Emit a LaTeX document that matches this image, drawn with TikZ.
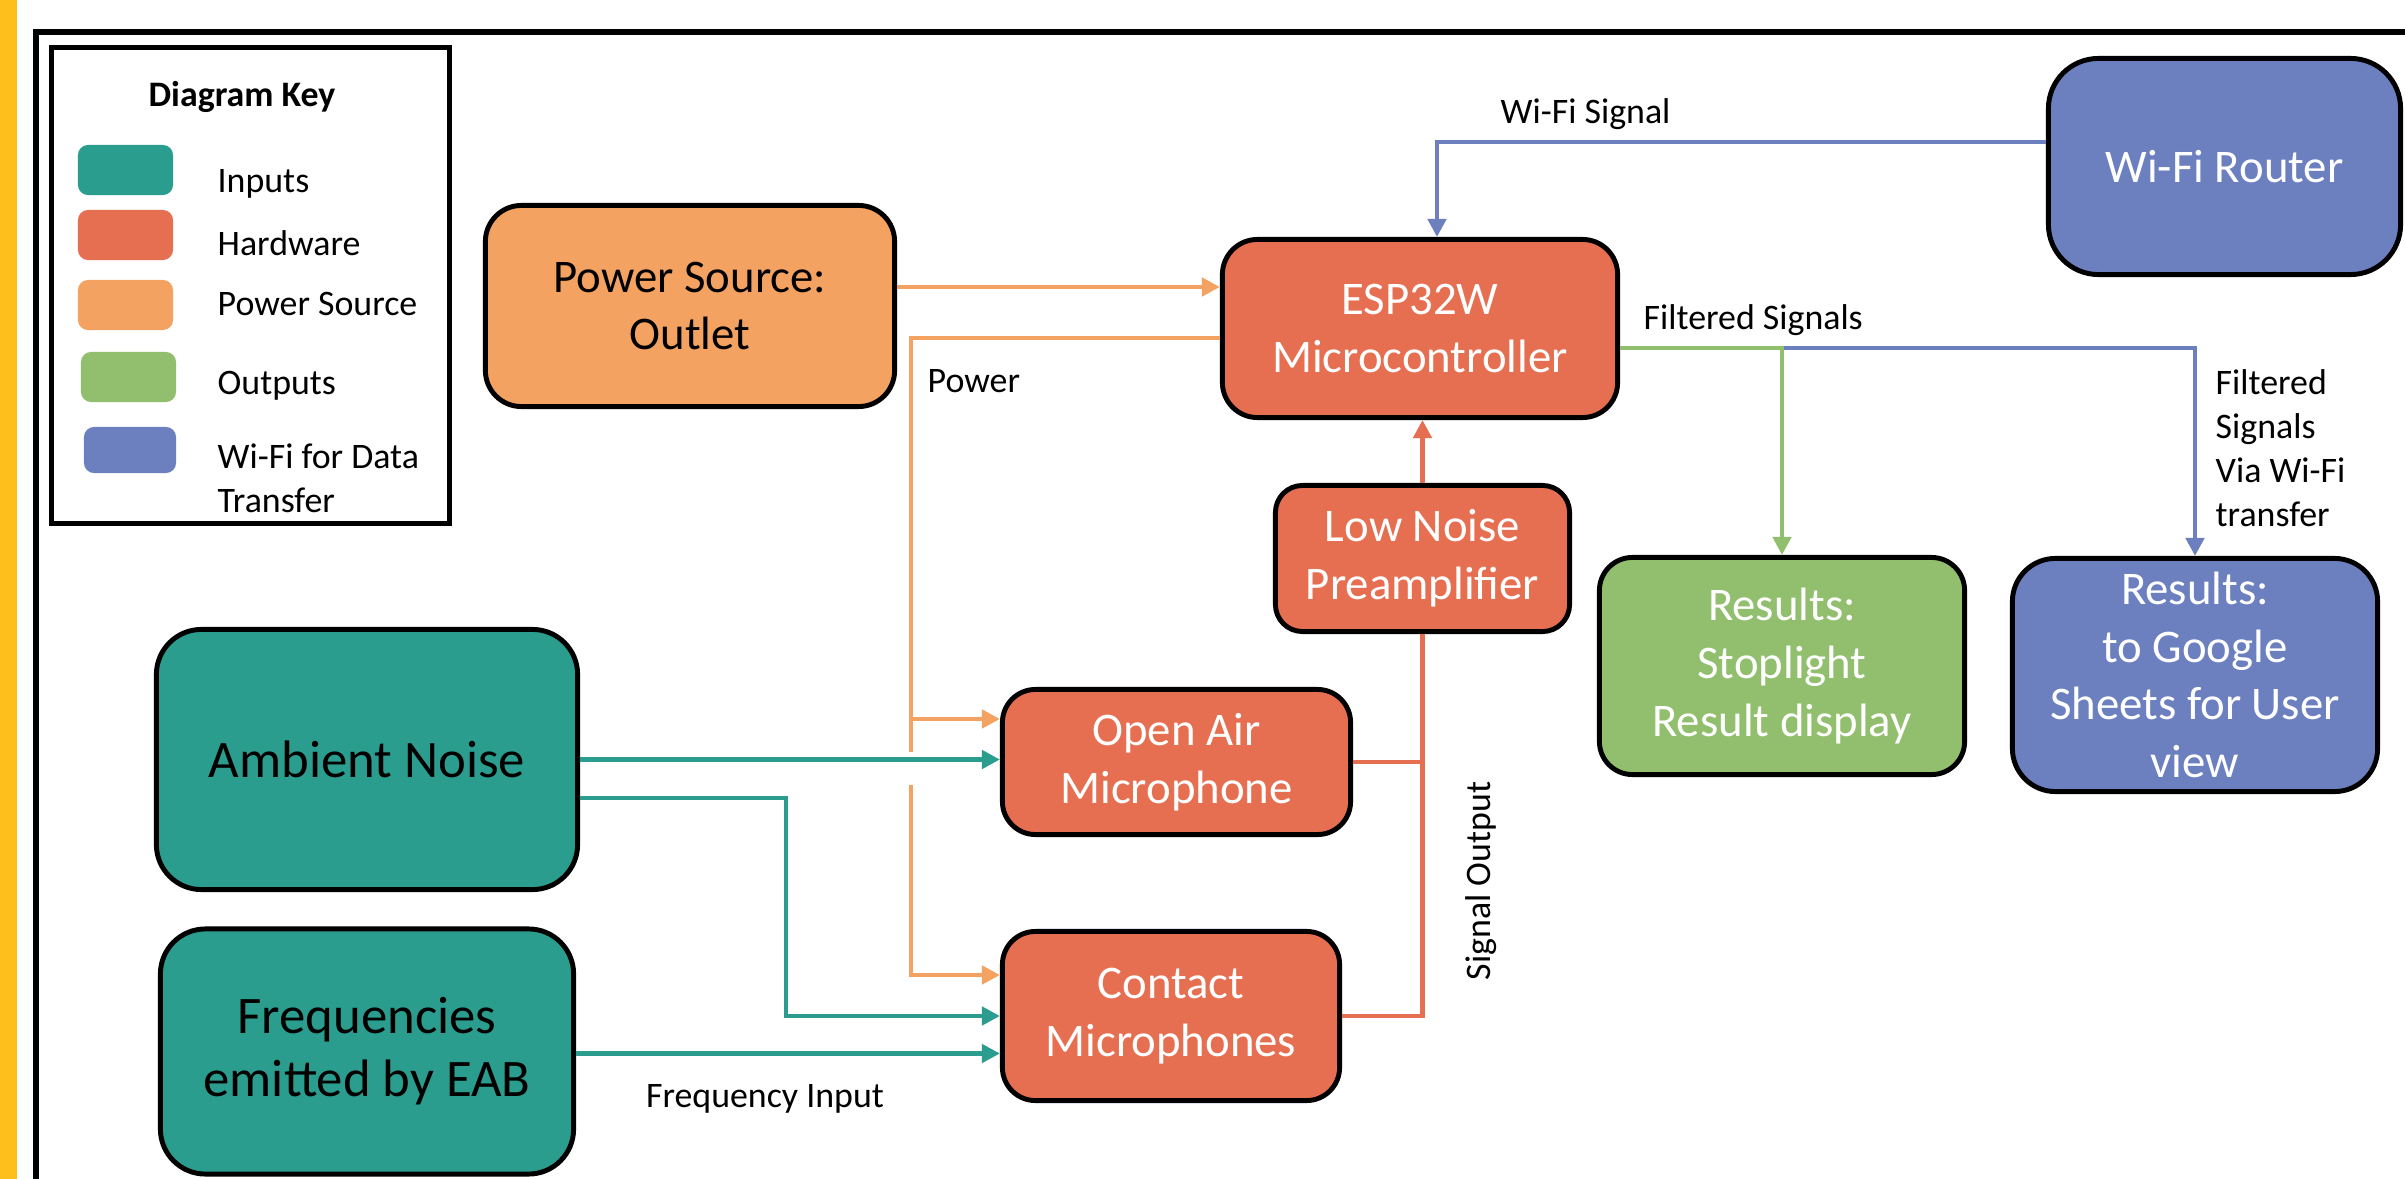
\documentclass[tikz,border=0pt]{standalone}
\usepackage{fontspec}
\setmainfont{Carlito}
\usetikzlibrary{arrows.meta,calc}
\definecolor{cteal}{HTML}{2A9D8F}
\definecolor{cred}{HTML}{E76F51}
\definecolor{corange}{HTML}{F4A261}
\definecolor{cgreen}{HTML}{92BF6E}
\definecolor{cblue}{HTML}{6C80BF}
\definecolor{cyellow}{HTML}{FEBE1C}
\newcommand\bigfnt{\fontsize{15}{17.9}\selectfont}
\newcommand\medfnt{\fontsize{13.3}{16.4}\selectfont}
\newcommand\smfnt{\fontsize{10.2}{12.5}\selectfont}
\begin{document}
\begin{tikzpicture}[x=0.01cm,y=-0.01cm,
  blk/.style={draw=black, line width=1.4pt, align=center, inner sep=0pt},
  conn/.style={line width=1.4pt},
  arr/.style={-{Triangle[length=0.18cm,width=0.18cm]}},
  swatch/.style={rounded corners=0.1cm, minimum width=0.95cm, minimum height=0.5cm, inner sep=0pt},
  lbl/.style={font=\smfnt, inner sep=0pt, align=left}]
\useasboundingbox (0,0) rectangle (2405,1179);
\fill[white] (0,0) rectangle (2405,1179);
% side bar and frame
\fill[cyellow] (0,0) rectangle (17,1179);
\draw[line width=1.55pt] (36,1179) -- (36,32) -- (2405,32);
% legend
\node[draw, line width=1.4pt, minimum width=3.98cm, minimum height=4.76cm, inner sep=0pt] (key) at (250.5,285.5) {};
\node[font=\smfnt\bfseries, anchor=base, inner sep=0pt] (keytitle) at (242,107) {Diagram Key};
\node[swatch, fill=cteal] (sw1) at (125.5,170) {};
\node[swatch, fill=cred] (sw2) at (125.5,235) {};
\node[swatch, fill=corange] (sw3) at (125.5,305) {};
\node[swatch, fill=cgreen] (sw4) at (128.5,377) {};
\node[swatch, fill=cblue, minimum width=0.92cm, minimum height=0.46cm] (sw5) at (130,450) {};
\node[lbl, anchor=base west] (l1) at (217,193) {Inputs};
\node[lbl, anchor=base west] (l2) at (217,256) {Hardware};
\node[lbl, anchor=base west] (l3) at (217,316) {Power Source};
\node[lbl, anchor=base west] (l4) at (217,395) {Outputs};
\node[lbl, anchor=base west] (l5) at (217,512) {Wi-Fi for Data\\Transfer};
% boxes
\node[blk, fill=corange, rounded corners=0.36cm, minimum width=4.09cm, minimum height=2.01cm, font=\medfnt] (power) at (690,306) {Power Source:\\Outlet};
\node[blk, fill=cteal, rounded corners=0.45cm, minimum width=4.21cm, minimum height=2.6cm, font=\bigfnt] (ambient) at (367,759.5) {Ambient Noise};
\node[blk, fill=cteal, rounded corners=0.45cm, minimum width=4.13cm, minimum height=2.45cm, font=\bigfnt] (freq) at (367,1051.5) {Frequencies\\emitted by EAB};
\node[blk, fill=cred, text=white, rounded corners=0.35cm, minimum width=3.95cm, minimum height=1.78cm, font=\medfnt] (esp) at (1420,328.5) {ESP32W\\Microcontroller};
\node[blk, fill=cblue, text=white, rounded corners=0.5cm, minimum width=3.52cm, minimum height=2.16cm, font=\medfnt] (router) at (2224.5,166.5) {Wi-Fi Router};
\node[blk, fill=cred, text=white, rounded corners=0.27cm, minimum width=2.94cm, minimum height=1.46cm, font=\medfnt] (lna) at (1422.5,558.5) {Low Noise\\Preamplifier};
\node[blk, fill=cred, text=white, rounded corners=0.33cm, minimum width=3.48cm, minimum height=1.45cm, font=\medfnt] (oam) at (1176.5,762) {Open Air\\Microphone};
\node[blk, fill=cred, text=white, rounded corners=0.33cm, minimum width=3.37cm, minimum height=1.69cm, font=\medfnt] (cm) at (1171,1016) {Contact\\Microphones};
\node[blk, fill=cgreen, text=white, rounded corners=0.33cm, minimum width=3.65cm, minimum height=2.17cm, font=\medfnt] (stop) at (1782,666) {Results:\\Stoplight\\Result display};
\node[blk, fill=cblue, text=white, rounded corners=0.43cm, minimum width=3.65cm, minimum height=2.33cm, font=\medfnt] (gs) at (2195,675) {Results:\\to Google\\Sheets for User\\view};
% power connectors
\coordinate (p1) at ($(power.east)+(0,-19)$);
\draw[conn, corange, arr] (p1) -- (p1 -| esp.west);
\coordinate (pj0) at ($(esp.west)+(0,9.5)$);
\coordinate (pbusA) at (911,752);
\coordinate (pj1) at (911,719);
\coordinate (pbusB) at (911,785);
\coordinate (pj2) at (911,975);
\draw[conn, corange] (pj0) -| (pbusA);
\draw[conn, corange, arr] (pj1) -- (pj1 -| oam.west);
\draw[conn, corange, arr] (pbusB) -- (pj2) -- (pj2 -| cm.west);
\node[lbl, anchor=base west] (powlbl) at (927,393) {Power};
% input connectors
\draw[conn, cteal, arr] (ambient.east) -- (ambient.east -| oam.west);
\coordinate (a2) at ($(ambient.east)+(0,38.5)$);
\coordinate (tb) at (786,1016);
\draw[conn, cteal, arr] (a2) -| (tb) -- (tb -| cm.west);
\coordinate (f1) at ($(freq.east)+(0,2)$);
\draw[conn, cteal, arr] (f1) -- (f1 -| cm.west);
\node[lbl, anchor=base] (freqlbl) at (765,1107) {Frequency Input};
% signal connectors
\draw[conn, cred] (oam.east) -- (oam.east -| lna.south);
\draw[conn, cred] (cm.east) -| (lna.south);
\draw[conn, cred, arr] (lna.north) -- (lna.north |- esp.south);
\node[font=\smfnt, rotate=90, inner sep=0pt] (sigout) at (1481,881) {Signal Output};
% wifi
\coordinate (w1) at ($(router.west)+(0,-24.5)$);
\coordinate (w2) at ($(esp.north)+(17,0)$);
\draw[conn, cblue, arr] (w1) -| (w2);
\node[lbl, anchor=base west] (wifilbl) at (1500,124) {Wi-Fi Signal};
% outputs
\coordinate (fs) at ($(esp.east)+(0,19.5)$);
\coordinate (fsj) at (fs -| stop.north);
\draw[conn, cblue, arr] (fsj) -| (gs.north);
\draw[conn, cgreen, arr] (fs) -| (stop.north);
\node[lbl, anchor=base west] (fslbl) at (1643,330) {Filtered Signals};
\node[lbl, anchor=base west] (fwlbl) at (2215,526) {Filtered\\Signals\\Via Wi-Fi\\transfer};
\end{tikzpicture}
\end{document}
